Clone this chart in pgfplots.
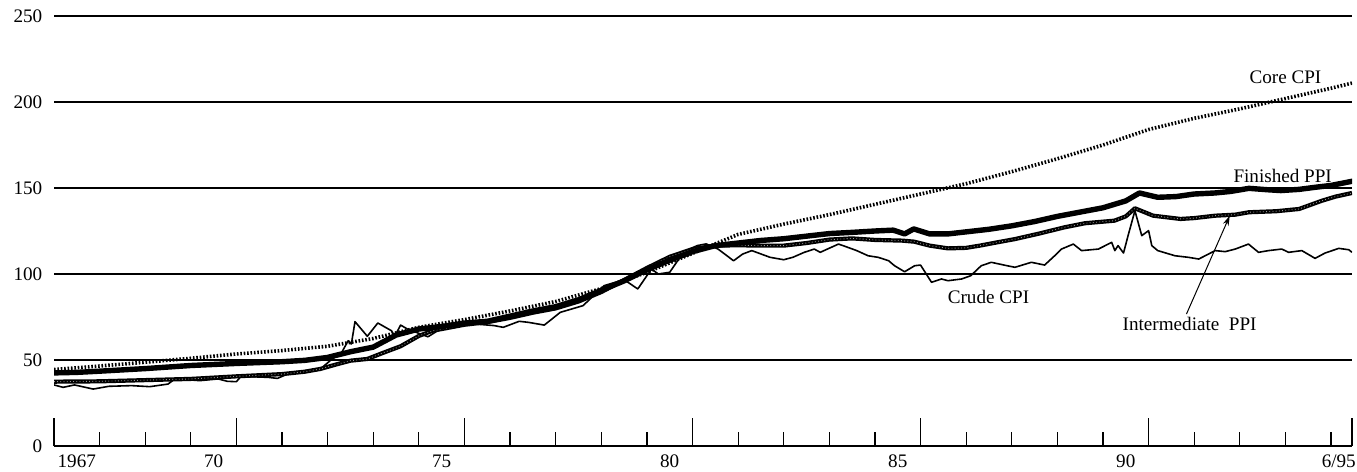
\documentclass[border=0pt]{standalone}
\usepackage{fontspec}
\setmainfont{Liberation Serif}
\usepackage{pgfplots}
\pgfplotsset{compat=1.18}
\usetikzlibrary{arrows.meta}

\begin{document}
\fontsize{9.6}{11}\selectfont
\begin{tikzpicture}
\begin{axis}[
  name=ax,
  width=649bp, height=215bp, scale only axis,
  xmin=1967, xmax=1995.46, ymin=0, ymax=250,
  axis lines*=left,
  y axis line style={draw=none},
  x axis line style={line width=0.6bp},
  ytick={0,50,100,150,200,250},
  yticklabel style={xshift=-2.5bp},
  ymajorgrids,
  grid style={black, line width=0.6bp},
  ytick style={draw=none},
  xtick={1967,1971,1976,1981,1986,1991,1995.46},
  xticklabels={},
  minor xtick={1968,1969,1970,1972,1973,1974,1975,1977,1978,1979,1980,1982,1983,1984,1985,1987,1988,1989,1990,1992,1993,1994,1995},
  tick align=inside,
  x tick style={black, line width=0.6bp},
  major tick length=14bp,
  minor tick length=7bp,
  extra x ticks={1967.5,1970.5,1975.5,1980.5,1985.5,1990.5,1995.17},
  extra x tick labels={1967,70,75,80,85,90,6/95},
  extra x tick style={major tick length=0pt, xticklabel style={yshift=-1bp}},
  /pgf/number format/assume math mode=true,
  clip=true,
]
% Crude CPI
\addplot[black, line width=0.8bp, line join=round] coordinates {
(1967.0,35.5)(1967.2,34.1)(1967.45,35.5)(1967.86,33.1)(1968.2,34.7)(1968.7,35.1)
(1969.1,34.5)(1969.5,36.0)(1969.65,39.0)(1970.2,38.0)(1970.6,39.0)(1970.8,37.6)
(1971.0,37.4)(1971.1,40.5)(1971.7,39.9)(1971.9,39.3)(1972.2,42.8)(1972.84,44.8)
(1973.1,50.6)(1973.3,54.0)(1973.45,61.2)(1973.52,59.3)(1973.6,72.3)(1973.87,63.8)
(1974.1,71.5)(1974.4,67.0)(1974.47,63.8)(1974.6,70.3)(1974.75,68.0)(1975.2,63.5)
(1975.5,68.5)(1975.8,69.5)(1976.2,71.0)(1976.65,70.0)(1976.85,69.0)(1977.2,72.5)
(1977.4,71.9)(1977.75,70.3)(1978.1,77.7)(1978.6,81.6)(1979.06,93.2)(1979.5,96.7)
(1979.8,91.3)(1980.1,102.9)(1980.25,100.0)(1980.5,101.0)(1980.65,106.8)(1980.8,112.6)
(1981.1,116.5)(1981.3,117.5)(1981.56,114.5)(1981.9,107.7)(1982.1,111.6)(1982.3,113.6)
(1982.7,109.7)(1983.0,108.3)(1983.2,109.7)(1983.45,112.6)(1983.67,114.5)(1983.8,112.6)
(1984.2,117.4)(1984.3,116.5)(1984.6,113.6)(1984.85,110.6)(1985.07,109.7)(1985.14,109.1)
(1985.3,107.7)(1985.43,104.8)(1985.65,101.3)(1985.87,104.8)(1986.0,105.2)(1986.24,95.2)
(1986.46,97.1)(1986.6,96.1)(1986.9,97.1)(1987.1,99.0)(1987.33,104.8)(1987.55,106.8)
(1987.9,104.8)(1988.07,103.9)(1988.43,106.8)(1988.72,105.2)(1988.94,110.6)(1989.09,114.5)
(1989.35,117.4)(1989.53,113.6)(1989.9,114.5)(1990.19,118.4)(1990.26,113.6)(1990.33,116.5)
(1990.45,112.2)(1990.55,122.3)(1990.7,136.8)(1990.85,122.3)(1991.0,125.2)(1991.07,116.5)
(1991.2,113.6)(1991.58,110.6)(1991.87,109.7)(1992.1,108.7)(1992.46,113.6)(1992.68,113.0)
(1992.9,114.5)(1993.19,117.4)(1993.41,112.6)(1993.63,113.6)(1993.92,114.5)(1994.07,112.6)
(1994.36,113.6)(1994.65,109.1)(1994.87,112.2)(1995.17,114.9)(1995.39,114.1)(1995.46,112.6)
};
% Intermediate PPI (hatched)
\pgfplotstableread{
x y
1967.0 37.4
1968.0 37.6
1969.0 38.3
1970.0 39.0
1971.0 40.5
1972.0 41.8
1972.5 43.2
1972.84 44.8
1973.2 47.5
1973.5 49.6
1973.87 50.6
1974.2 54.0
1974.6 58.0
1975.0 64.0
1975.3 67.0
1975.7 69.0
1976.0 70.5
1976.5 72.0
1977.0 74.5
1977.5 77.5
1978.0 80.0
1978.5 84.0
1979.0 89.5
1979.5 96.5
1980.0 103.5
1980.5 110.0
1981.0 114.5
1981.5 116.5
1982.0 116.7
1982.5 116.5
1983.0 116.5
1983.5 118.0
1984.0 120.0
1984.5 120.7
1985.0 119.8
1985.6 119.4
1985.86 118.8
1986.2 116.5
1986.6 114.9
1987.0 115.2
1987.3 116.5
1987.7 118.5
1988.07 120.3
1988.6 123.5
1989.15 127.1
1989.6 129.5
1990.25 131.0
1990.5 133.5
1990.7 138.2
1991.1 133.9
1991.7 132.0
1992.0 132.5
1992.46 133.9
1992.9 134.5
1993.2 135.9
1993.8 136.5
1994.3 137.8
1994.8 142.6
1995.1 145.0
1995.46 147.1
}\interm
\addplot[black, line width=2.1bp, line join=round] table {\interm};
\addplot[white!60!black, line width=0.45bp, dash pattern=on 0.4bp off 1.2bp] table {\interm};
% Finished PPI
\addplot[black, line width=2.7bp, line join=round, line cap=round] coordinates {
(1967.0,42.5)(1967.5,42.8)(1968.0,43.5)(1969.0,45.0)(1970.0,46.8)(1971.0,48.0)
(1972.0,49.0)(1972.5,49.8)(1973.0,51.5)(1973.5,54.8)(1974.0,57.5)(1974.25,61.0)
(1974.5,64.5)(1975.0,68.0)(1975.5,69.5)(1976.0,71.5)(1976.5,72.5)(1977.0,75.5)
(1977.5,78.5)(1978.0,81.0)(1978.5,85.0)(1979.0,90.5)(1979.5,96.0)(1980.0,102.5)
(1980.5,108.0)(1981.0,113.0)(1981.5,116.5)(1982.0,118.0)(1982.5,119.5)(1983.0,120.5)
(1983.5,122.0)(1984.0,123.5)(1984.5,124.2)(1985.0,125.0)(1985.4,125.5)(1985.65,123.3)
(1985.85,126.2)(1986.2,123.3)(1986.6,123.3)(1987.0,124.5)(1987.5,126.0)(1988.0,128.0)
(1988.5,130.5)(1989.0,133.5)(1989.5,136.0)(1990.0,138.5)(1990.5,142.5)(1990.8,147.1)
(1991.2,144.6)(1991.6,145.0)(1992.0,146.5)(1992.45,147.1)(1992.8,148.0)(1993.2,149.8)
(1993.6,149.0)(1993.9,148.5)(1994.3,149.2)(1994.65,150.4)(1995.0,151.5)(1995.46,153.9)
};
% Core CPI (dotted)
\addplot[black, line width=1.8bp, dash pattern=on 0.8bp off 0.9bp] coordinates {
(1967.0,44.5)(1968.0,46.5)(1969.0,48.7)(1970.0,51.0)(1971.0,53.5)(1972.0,55.5)
(1973.0,58.0)(1974.0,62.5)(1975.0,69.0)(1976.0,73.5)(1977.0,78.5)(1978.0,84.0)
(1979.0,91.5)(1980.0,101.0)(1981.0,112.0)(1982.0,123.0)(1983.0,129.0)(1984.0,134.5)
(1985.0,140.5)(1986.0,146.5)(1987.0,152.5)(1988.0,159.5)(1989.0,167.0)(1990.0,175.0)
(1991.0,184.0)(1992.0,190.5)(1993.0,196.0)(1994.0,202.0)(1995.0,208.0)(1995.46,211.0)
};
\node at (axis cs:1994.0,214.5) {Core CPI};
\node at (axis cs:1993.94,157.2) {Finished PPI};
\node at (axis cs:1987.49,86.4) {Crude CPI};
\node at (axis cs:1991.9,70.9) {Intermediate\hspace{0.5em}PPI};
\draw[-{Stealth[length=5bp,width=3bp]}, line width=0.5bp] (axis cs:1991.83,76.7) -- (axis cs:1992.78,133.9);
\end{axis}
\pgfresetboundingbox
\path[use as bounding box] ([xshift=-27bp,yshift=-13bp]ax.south west) rectangle ([xshift=2.5bp,yshift=8bp]ax.north east);
\end{tikzpicture}
\end{document}
